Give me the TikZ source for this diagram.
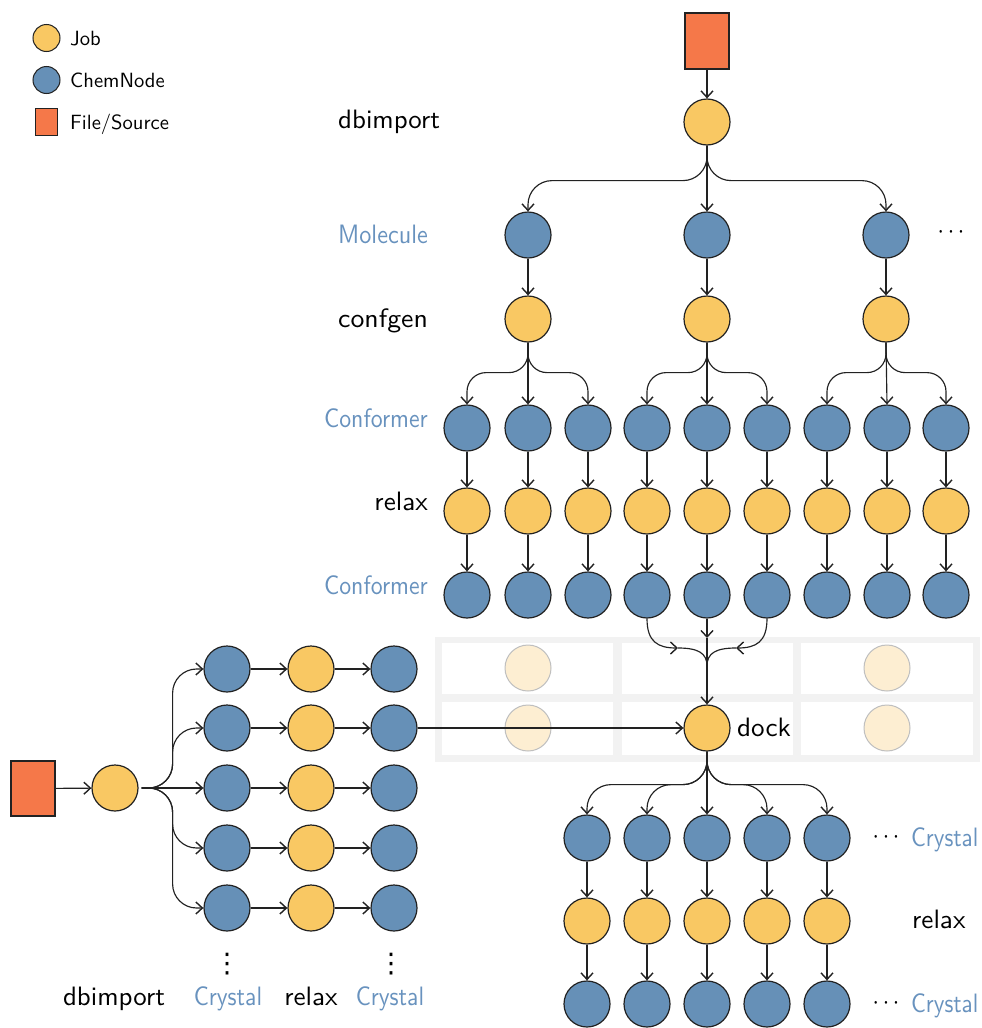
\documentclass[tikz,border=0pt]{standalone}
\usepackage{fontspec}
\usetikzlibrary{arrows.meta}
\newfontfamily\djv{DejaVu Sans}
\definecolor{jobc}{HTML}{F9C863}
\definecolor{chemc}{HTML}{6690B7}
\definecolor{filec}{HTML}{F57849}
\definecolor{labc}{HTML}{6892BE}
\definecolor{fadec}{HTML}{FDEED2}
\definecolor{linec}{HTML}{222222}
\definecolor{bandc}{HTML}{F2F2F2}
\newcommand\bt[2][2.66]{\scalebox{#1}[2.66]{\fontsize{10}{12}\selectfont\sffamily #2}}
\newcommand\lt[1]{\scalebox{2.06}{\fontsize{10}{12}\selectfont\sffamily #1}}
\begin{document}
\begin{tikzpicture}[x=1pt,y=-1pt,
  jobn/.style={circle,draw=linec,fill=jobc,line width=1.2pt,minimum size=46pt,inner sep=0pt},
  chemn/.style={circle,draw=linec,fill=chemc,line width=1.2pt,minimum size=46pt,inner sep=0pt},
  filen/.style={rectangle,draw=linec,fill=filec,line width=1.2pt,minimum width=44pt,minimum height=56pt,inner sep=0pt},
  fadedn/.style={circle,draw=black!25,fill=fadec,line width=1pt,minimum size=46pt,inner sep=0pt},
  arr/.style={-{Straight Barb[length=6.5pt,width=12pt,line width=1.4pt]},line width=1.15pt,draw=linec},
  ln/.style={line width=1.15pt,draw=linec},
  fan/.style={arr,rounded corners=24pt},
  sfan/.style={arr,rounded corners=19pt},
  lbl/.style={inner sep=0pt,text=black},
  blbl/.style={lbl,text=labc},
  leg/.style={inner sep=0pt,anchor=base west}
]
\useasboundingbox (0,0) rectangle (982,1028);

% ---------- legend ----------
\node[jobn,minimum size=27pt,line width=1pt] (lj) at (46.5,38) {};
\node[chemn,minimum size=27pt,line width=1pt] (lc) at (46.5,80) {};
\node[filen,minimum width=21.6pt,minimum height=27.7pt,line width=1pt] (lf) at (46.5,122) {};
\node[leg] (ljt) at (70,45) {\lt{Job}};
\node[leg] (lct) at (70,87) {\lt{ChemNode}};
\node[leg] (lft) at (70,129) {\lt{File/Source}};

% ---------- grid band ----------
\fill[bandc] (435,637) rectangle (980,762);
\foreach \xa/\xb in {442/613,622/793,801/973}{
  \fill[white] (\xa,643) rectangle (\xb,694);
  \fill[white] (\xa,702) rectangle (\xb,755);
}

% ---------- top part ----------
\node[filen] (s1) at (707,41) {};
\node[jobn] (d1) at (707,122) {};
\node[chemn] (mo1) at (528,235) {};
\node[chemn] (mo2) at (707,235) {};
\node[chemn] (mo3) at (886,235) {};
\node[lbl] (mdots) at (951,233) {\bt[2.3]{$\cdots$}};
\node[jobn] (cg1) at (528,319) {};
\node[jobn] (cg2) at (707,319) {};
\node[jobn] (cg3) at (886,319) {};

\draw[arr] (s1) -- (d1);
\draw[fan] (d1.south) -- ++(0,35) -| (mo1.north);
\draw[arr] (d1.south) -- (mo2.north);
\draw[fan] (d1.south) -- ++(0,35) -| (mo3.north);
\foreach \i in {1,2,3}{\draw[arr] (mo\i) -- (cg\i);}

\foreach \x [count=\i] in {467,528,588,647,707,767,827,887,946}{
  \node[chemn] (ca\i) at (\x,428) {};
  \node[jobn]  (r\i)  at (\x,511) {};
  \node[chemn] (cb\i) at (\x,595) {};
  \draw[arr] (ca\i) -- (r\i);
  \draw[arr] (r\i) -- (cb\i);
}
% confgen fans
\foreach \g/\a/\b/\c in {1/1/2/3,2/4/5/6,3/7/8/9}{
  \draw[sfan] (cg\g.south) -- ++(0,30) -| (ca\a.north);
  \draw[arr] (cg\g.south) -- (ca\b.north);
  \draw[sfan] (cg\g.south) -- ++(0,30) -| (ca\c.north);
}

\node[lbl,anchor=base west] (t1) at (338,128) {\bt[2.69]{dbimport}};
\node[blbl,anchor=base west] (t2) at (338,243) {\bt[2.42]{Molecule}};
\node[lbl,anchor=base west] (t3) at (338,327) {\bt[2.78]{confgen}};
\node[blbl,anchor=base east] (t4) at (428,427) {\bt[2.38]{Conformer}};
\node[lbl,anchor=base east] (t5) at (428,510) {\bt[2.71]{relax}};
\node[blbl,anchor=base east] (t6) at (428,594) {\bt[2.38]{Conformer}};

% ---------- bottom-left ----------
\node[filen,minimum height=55pt] (s2) at (33,788.5) {};
\node[jobn] (j2) at (115,788) {};
\draw[arr] (s2) -- (j2);
\foreach \y [count=\i] in {669,728,788,848,908}{
  \node[chemn] (ba\i) at (227,\y) {};
  \node[jobn]  (bb\i) at (311,\y) {};
  \node[chemn] (bc\i) at (394,\y) {};
  \draw[arr] (ba\i) -- (bb\i);
  \draw[arr] (bb\i) -- (bc\i);
}
\foreach \i in {1,2,4,5}{
  \draw[fan,shorten <=3pt] (j2.east) -- ++(34,0) |- (ba\i.west);
}
\draw[arr,shorten <=3pt] (j2.east) -- (ba3.west);
\node[lbl] (vd1) at (227,964) {\fontsize{27}{30}\selectfont\djv ⋮};
\node[lbl] (vd2) at (391,964) {\fontsize{27}{30}\selectfont\djv ⋮};
\node[lbl,anchor=base] (u1) at (114,1005) {\bt[2.69]{dbimport}};
\node[blbl,anchor=base] (u2) at (228,1005) {\bt[2.35]{Crystal}};
\node[lbl,anchor=base] (u3) at (311,1005) {\bt[2.71]{relax}};
\node[blbl,anchor=base] (u4) at (390,1005) {\bt[2.35]{Crystal}};

% ---------- dock ----------
\node[jobn] (dock) at (707,728) {};
\node[fadedn] (f1) at (528,668) {};
\node[fadedn] (f2) at (528,728) {};
\node[fadedn] (f3) at (887,668) {};
\node[fadedn] (f4) at (887,728) {};
\draw[arr] (bc2.east) -- (dock.west);
\node[lbl,anchor=base west] (dl) at (737,736) {\bt[2.71]{dock}};

\coordinate (ml) at (678,648);
\coordinate (mr) at (736,648);
\coordinate (mt) at (707,638);
\coordinate (mj) at (707,666);
\draw[arr] (cb4.south) .. controls (647,642) and (658,648) .. (ml);
\draw[ln] (ml) .. controls (698,648) and (707,653) .. (mj);
\draw[arr] (cb6.south) .. controls (767,642) and (756,648) .. (mr);
\draw[ln] (mr) .. controls (716,648) and (707,653) .. (mj);
\draw[arr] (cb5.south) -- (mt);
\draw[arr] (mt) -- (dock.north);

% ---------- bottom-right ----------
\foreach \x [count=\i] in {587,647,707,767,827}{
  \node[chemn] (xa\i) at (\x,838) {};
  \node[jobn]  (xr\i) at (\x,921) {};
  \node[chemn] (xb\i) at (\x,1004) {};
  \draw[arr] (xa\i) -- (xr\i);
  \draw[arr] (xr\i) -- (xb\i);
}
\draw[fan] (dock.south) -- ++(0,33) -| (xa1.north);
\draw[fan] (dock.south) -- ++(0,33) -| (xa2.north);
\draw[arr] (dock.south) -- (xa3.north);
\draw[fan] (dock.south) -- ++(0,33) -| (xa4.north);
\draw[fan] (dock.south) -- ++(0,33) -| (xa5.north);

\node[lbl] (xd1) at (886,838) {\bt[2.3]{$\cdots$}};
\node[blbl,anchor=base west] (xl1) at (911,846) {\bt[2.31]{Crystal}};
\node[lbl,anchor=base west] (xl2) at (912,928) {\bt[2.71]{relax}};
\node[lbl] (xd2) at (886,1004) {\bt[2.3]{$\cdots$}};
\node[blbl,anchor=base west] (xl3) at (911,1012) {\bt[2.31]{Crystal}};
\end{tikzpicture}
\end{document}
